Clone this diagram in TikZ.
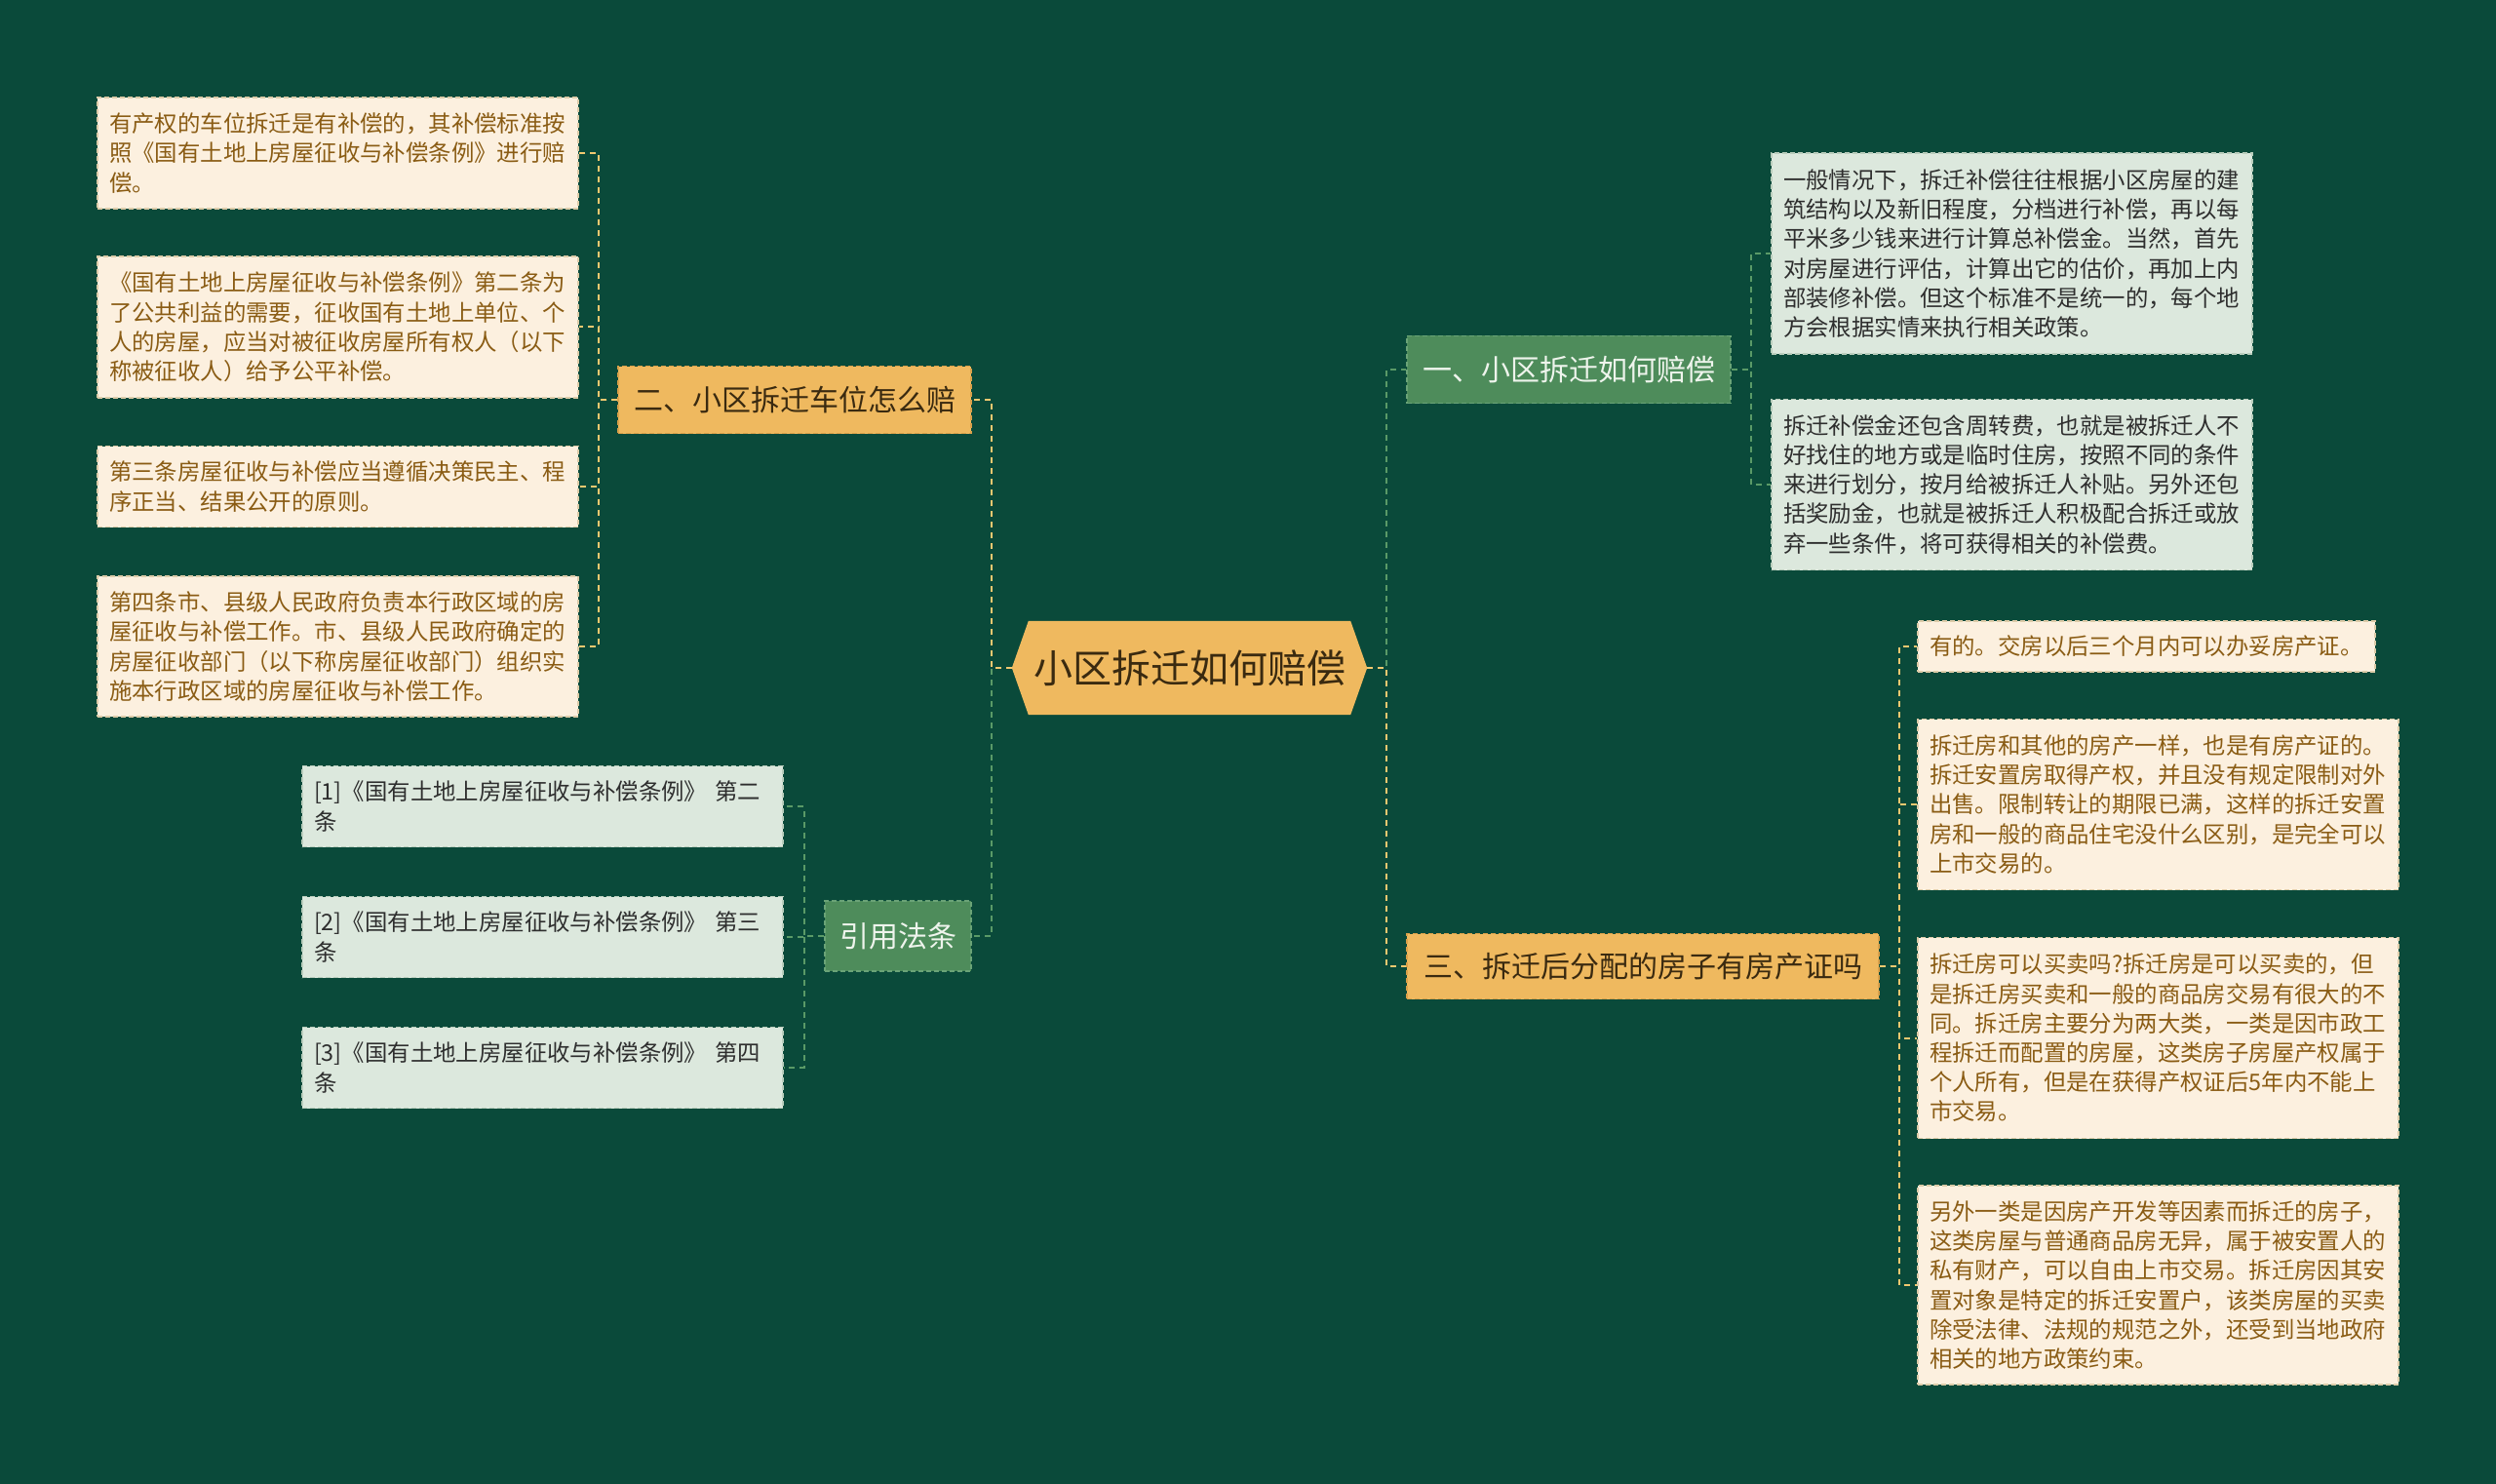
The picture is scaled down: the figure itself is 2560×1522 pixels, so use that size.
\documentclass[tikz,border=0pt]{standalone}
\usepackage{fontspec}
\setmainfont{Noto Sans CJK SC}
\usetikzlibrary{backgrounds,calc}
\definecolor{bg}{HTML}{0A4A3A}
\definecolor{orangefill}{HTML}{EFB95F}
\definecolor{orangeborder}{HTML}{D9A04A}
\definecolor{orangeline}{HTML}{F0C870}
\definecolor{greenfill}{HTML}{4E8C5B}
\definecolor{greenborder}{HTML}{6AA377}
\definecolor{greenline}{HTML}{5A9A67}
\definecolor{creamfill}{HTML}{FCF0DF}
\definecolor{creamborder}{HTML}{DCCBA8}
\definecolor{creamtext}{HTML}{8A5C14}
\definecolor{mintfill}{HTML}{DCE8DD}
\definecolor{mintborder}{HTML}{B9CDBC}
\definecolor{minttext}{HTML}{2E2E2E}
\definecolor{darktext}{HTML}{3A2A10}
\definecolor{lighttext}{HTML}{EEF4EC}
\newcommand\leaffont{\fontsize{23.4}{30.2}\selectfont}
\newcommand\branchfont{\fontsize{30}{36}\selectfont}
\newcommand\rootfont{\fontsize{40}{48}\selectfont}
\tikzset{
  box/.style={rectangle, draw, dash pattern=on 5pt off 3pt, line width=1.3pt,
    inner xsep=12pt, inner ysep=0pt, align=left, anchor=center},
  creamleaf/.style={box, fill=creamfill, draw=creamborder, text=creamtext, font=\leaffont},
  mintleaf/.style={box, fill=mintfill, draw=mintborder, text=minttext, font=\leaffont},
  obranch/.style={box, fill=orangefill, draw=orangeborder, text=darktext, font=\branchfont, align=center, inner xsep=0pt},
  gbranch/.style={box, fill=greenfill, draw=greenborder, text=lighttext, font=\branchfont, align=center, inner xsep=0pt},
  ylink/.style={draw=orangeline, line width=2pt, dash pattern=on 6pt off 5pt},
  glink/.style={draw=greenline, line width=2pt, dash pattern=on 6pt off 5pt},
}
\begin{document}
\begin{tikzpicture}[x=1pt,y=-1pt]
\begin{scope}[on background layer]
\fill[bg] (0,0) rectangle (2560,1522);
\end{scope}
\useasboundingbox (0,0) rectangle (2560,1522);

% root
\node[font=\rootfont, text=darktext, minimum width=364pt, minimum height=96pt, inner sep=0pt] (root) at (1220,685) {小区拆迁如何赔偿};
\begin{scope}[on background layer]
\fill[orangefill] (root.west) -- ($(root.north west)+(17,0)$) -- ($(root.north east)+(-17,0)$) -- (root.east) -- ($(root.south east)+(-17,0)$) -- ($(root.south west)+(17,0)$) -- cycle;
\end{scope}

% branches
\node[obranch, minimum width=362pt, minimum height=69pt] (two) at (815,410) {二、小区拆迁车位怎么赔};
\node[gbranch, minimum width=150pt, minimum height=72pt] (cite) at (921,960) {引用法条};
\node[gbranch, minimum width=332pt, minimum height=69pt] (one) at (1609,379) {一、小区拆迁如何赔偿};
\node[obranch, minimum width=484pt, minimum height=67pt] (three) at (1685,991) {三、拆迁后分配的房子有房产证吗};

% left leaves
\node[creamleaf, text width=469pt, minimum height=114pt] (l1) at (346.5,157) {有产权的车位拆迁是有补偿的，其补偿标准按\\照《国有土地上房屋征收与补偿条例》进行赔\\偿。};
\node[creamleaf, text width=469pt, minimum height=145pt] (l2) at (346.5,335.5) {《国有土地上房屋征收与补偿条例》第二条为\\了公共利益的需要，征收国有土地上单位、个\\人的房屋，应当对被征收房屋所有权人（以下\\称被征收人）给予公平补偿。};
\node[creamleaf, text width=469pt, minimum height=83pt] (l3) at (346.5,499) {第三条房屋征收与补偿应当遵循决策民主、程\\序正当、结果公开的原则。};
\node[creamleaf, text width=469pt, minimum height=144pt] (l4) at (346.5,663) {第四条市、县级人民政府负责本行政区域的房\\屋征收与补偿工作。市、县级人民政府确定的\\房屋征收部门（以下称房屋征收部门）组织实\\施本行政区域的房屋征收与补偿工作。};

% citations
\node[mintleaf, text width=469pt, minimum height=83pt] (r1) at (556.5,827) {[1]《国有土地上房屋征收与补偿条例》 第二\\条};
\node[mintleaf, text width=469pt, minimum height=83pt] (r2) at (556.5,961) {[2]《国有土地上房屋征收与补偿条例》 第三\\条};
\node[mintleaf, text width=469pt, minimum height=83pt] (r3) at (556.5,1095) {[3]《国有土地上房屋征收与补偿条例》 第四\\条};

% branch one leaves
\node[mintleaf, text width=469pt, minimum height=206pt] (g1) at (2063.5,260) {一般情况下，拆迁补偿往往根据小区房屋的建\\筑结构以及新旧程度，分档进行补偿，再以每\\平米多少钱来进行计算总补偿金。当然，首先\\对房屋进行评估，计算出它的估价，再加上内\\部装修补偿。但这个标准不是统一的，每个地\\方会根据实情来执行相关政策。};
\node[mintleaf, text width=469pt, minimum height=175pt] (g2) at (2063.5,497) {拆迁补偿金还包含周转费，也就是被拆迁人不\\好找住的地方或是临时住房，按照不同的条件\\来进行划分，按月给被拆迁人补贴。另外还包\\括奖励金，也就是被拆迁人积极配合拆迁或放\\弃一些条件，将可获得相关的补偿费。};

% branch three leaves
\node[creamleaf, text width=445pt, minimum height=52pt] (c1) at (2201.5,663) {有的。交房以后三个月内可以办妥房产证。};
\node[creamleaf, text width=469pt, minimum height=175pt] (c2) at (2213.5,825) {拆迁房和其他的房产一样，也是有房产证的。\\拆迁安置房取得产权，并且没有规定限制对外\\出售。限制转让的期限已满，这样的拆迁安置\\房和一般的商品住宅没什么区别，是完全可以\\上市交易的。};
\node[creamleaf, text width=469pt, minimum height=206pt] (c3) at (2213.5,1064.5) {拆迁房可以买卖吗?拆迁房是可以买卖的，但\\是拆迁房买卖和一般的商品房交易有很大的不\\同。拆迁房主要分为两大类，一类是因市政工\\程拆迁而配置的房屋，这类房子房屋产权属于\\个人所有，但是在获得产权证后5年内不能上\\市交易。};
\node[creamleaf, text width=469pt, minimum height=204pt] (c4) at (2213.5,1318) {另外一类是因房产开发等因素而拆迁的房子，\\这类房屋与普通商品房无异，属于被安置人的\\私有财产，可以自由上市交易。拆迁房因其安\\置对象是特定的拆迁安置户，该类房屋的买卖\\除受法律、法规的规范之外，还受到当地政府\\相关的地方政策约束。};

% junctions
\coordinate (jL) at (1017,685);
\coordinate (jR) at (1422,685);
\coordinate (jTwo) at (614,410);
\coordinate (jCite) at (824.5,960);
\coordinate (jOne) at (1796,379);
\coordinate (jThree) at (1948,991);

% trunk connectors
\draw[glink] (root.west) -- (jL) |- (cite.east);
\draw[ylink] (root.west) -- (jL) |- (two.east);
\draw[glink] (root.east) -- (jR) |- (one.west);
\draw[ylink] (root.east) -- (jR) |- (three.west);

% leaf connectors
\foreach \n in {l1,l2,l3,l4} \draw[ylink] (two.west) -- (jTwo) |- (\n.east);
\foreach \n in {r1,r2,r3} \draw[glink] (cite.west) -- (jCite) |- (\n.east);
\foreach \n in {g1,g2} \draw[glink] (one.east) -- (jOne) |- (\n.west);
\foreach \n in {c1,c2,c3,c4} \draw[ylink] (three.east) -- (jThree) |- (\n.west);
\end{tikzpicture}
\end{document}
